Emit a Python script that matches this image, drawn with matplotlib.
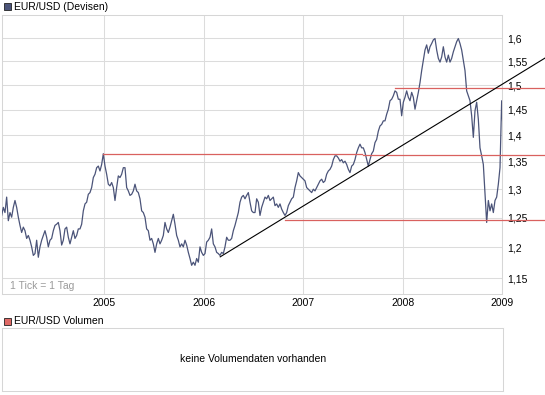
import numpy as np
import matplotlib.pyplot as plt
from matplotlib.patches import Rectangle
from matplotlib.ticker import FixedLocator, NullLocator

plt.rcParams['font.family'] = ['Liberation Sans', 'DejaVu Sans']

# EUR/USD closes, about one value every 6 days
price = [
    1.254, 1.268, 1.259, 1.286, 1.245, 1.259, 1.251, 1.268, 1.280, 1.268,
    1.251, 1.237, 1.225, 1.234, 1.228, 1.215, 1.220, 1.212, 1.201, 1.187,
    1.190, 1.212, 1.184, 1.201, 1.212, 1.220, 1.228, 1.217, 1.201, 1.212,
    1.215, 1.228, 1.237, 1.239, 1.242, 1.228, 1.204, 1.212, 1.231, 1.234,
    1.217, 1.206, 1.217, 1.228, 1.215, 1.220, 1.231, 1.231, 1.239, 1.262,
    1.274, 1.277, 1.291, 1.294, 1.303, 1.321, 1.327, 1.339, 1.342, 1.333,
    1.345, 1.365, 1.342, 1.327, 1.309, 1.306, 1.312, 1.303, 1.280, 1.303,
    1.324, 1.321, 1.327, 1.339, 1.339, 1.303, 1.297, 1.289,
    # 2005 / 2006
    1.291, 1.297, 1.309, 1.297, 1.294, 1.283, 1.262, 1.259, 1.251, 1.231,
    1.228, 1.212, 1.215, 1.206, 1.192, 1.206, 1.215, 1.206, 1.212, 1.220,
    1.242, 1.231, 1.225, 1.234, 1.245, 1.256, 1.239, 1.220, 1.212, 1.201,
    1.206, 1.201, 1.212, 1.204, 1.192, 1.182, 1.171, 1.176, 1.171, 1.182,
    1.176, 1.201, 1.192, 1.187, 1.190, 1.209, 1.212, 1.217, 1.231, 1.206,
    1.201, 1.192, 1.190, 1.187, 1.192, 1.190, 1.201, 1.217, 1.212, 1.212,
    1.215, 1.228, 1.237, 1.248, 1.259, 1.277, 1.286, 1.289, 1.283, 1.289,
    1.294, 1.277, 1.262, 1.259,
    # 2006 / 2007
    1.259, 1.283, 1.277, 1.254, 1.268, 1.277, 1.286, 1.283, 1.289, 1.280,
    1.283, 1.286, 1.271, 1.274, 1.268, 1.274, 1.265, 1.259, 1.254, 1.259,
    1.271, 1.277, 1.283, 1.286, 1.303, 1.315, 1.330, 1.324, 1.321, 1.318,
    1.315, 1.303, 1.300, 1.297, 1.294, 1.300, 1.297, 1.303, 1.309, 1.315,
    1.318, 1.312, 1.315, 1.327, 1.333, 1.336, 1.342, 1.354, 1.361, 1.361,
    1.357, 1.351, 1.354, 1.348, 1.351, 1.345, 1.336, 1.330, 1.342, 1.345,
    1.354, 1.367, 1.376, 1.383, 1.376, 1.376, 1.367, 1.354, 1.342, 1.354,
    1.365, 1.370, 1.386, 1.392, 1.408, 1.418, 1.421, 1.428, 1.428, 1.441,
    1.451,
    # 2008
    1.468, 1.471, 1.478, 1.488, 1.485, 1.471, 1.471, 1.438, 1.465, 1.475,
    1.488, 1.475, 1.468, 1.485, 1.475, 1.451, 1.468, 1.485, 1.505, 1.530,
    1.552, 1.574, 1.585, 1.567, 1.581, 1.588, 1.596, 1.599, 1.574, 1.556,
    1.548, 1.559, 1.581, 1.559, 1.548, 1.563, 1.548, 1.556, 1.570, 1.581,
    1.592, 1.599, 1.588, 1.574, 1.552, 1.530, 1.488, 1.478, 1.468, 1.438,
    1.396, 1.448, 1.465, 1.431, 1.376, 1.361, 1.345, 1.291, 1.242, 1.280,
    1.262, 1.274, 1.259, 1.280, 1.286, 1.309, 1.339, 1.468, 1.396,
]
t_start, t_end = 2003.9685, 2009.0104

years = [2005, 2006, 2007, 2008, 2009]
year_labels = ['2005', '2006', '2007', '2008', '2009']
levels = [1.15, 1.2, 1.25, 1.3, 1.35, 1.4, 1.45, 1.5, 1.55, 1.6]
level_labels = ['1,15', '1,2', '1,25', '1,3', '1,35', '1,4', '1,45', '1,5', '1,55', '1,6']

# drawn-in support / resistance lines: (from, to, level)
hlines = [
    (2004.984, 2007.59, 1.3653),
    (2007.60, 2009.43, 1.3634),
    (2006.816, 2009.43, 1.2469),
    (2007.922, 2009.43, 1.493),
]
trend_x = [2006.165, 2009.429]
trend_y = [1.1847, 1.5566]

line_col = '#4b5479'
red = '#d9615f'
frame = '#d6d6d6'

fig = plt.figure(figsize=(5.45, 3.95), dpi=100)
W, H = 545., 395.

ax = fig.add_axes([2.3 / W, 1 - 293.5 / H, 500 / W, 278.9 / H])
t = np.linspace(t_start, t_end, len(price))
ax.plot(t, price, color=line_col, lw=0.9, zorder=3)

for x0, x1, lv in hlines:
    ax.plot([x0, x1], [lv, lv], color=red, lw=0.9, clip_on=False, zorder=4)
ax.plot(trend_x, trend_y, color='black', lw=0.8, clip_on=False, zorder=5)

ax.set_yscale('log')
ax.set_ylim(1.1265, 1.6524)
ax.set_xlim(2003.975, 2009.0)
ax.yaxis.set_major_locator(FixedLocator(levels))
ax.yaxis.set_minor_locator(NullLocator())
ax.set_yticklabels(level_labels)
ax.set_xticks(years)
ax.set_xticklabels(year_labels)
ax.yaxis.tick_right()
ax.tick_params(axis='both', length=0, labelsize=7.5)
ax.tick_params(axis='y', pad=3.3)
ax.tick_params(axis='x', pad=3)
ax.grid(color='#dcdcdc', lw=0.75)
ax.set_axisbelow(True)
for s in ax.spines.values():
    s.set_color(frame)
    s.set_linewidth(0.75)

fig.text(10 / W, 1 - 286 / H, '1 Tick = 1 Tag', color='#9a9a9a', fontsize=7.5, va='center')

# titles with little colour squares
fig.patches.append(Rectangle((3.5 / W, 1 - 10 / H), 7 / W, 7 / H, transform=fig.transFigure,
                             facecolor=line_col, edgecolor='#222222', lw=0.6))
fig.text(14 / W, 1 - 6.5 / H, 'EUR/USD (Devisen)', fontsize=7.5, va='center')
fig.patches.append(Rectangle((3.5 / W, 1 - 324.5 / H), 7 / W, 7 / H, transform=fig.transFigure,
                             facecolor='#e06a66', edgecolor='#222222', lw=0.6))
fig.text(14 / W, 1 - 321 / H, 'EUR/USD Volumen', fontsize=7.5, va='center')

# empty volume panel
ax2 = fig.add_axes([2.4 / W, 1 - 390.5 / H, 500.6 / W, 62.5 / H])
ax2.set_xticks([])
ax2.set_yticks([])
for s in ax2.spines.values():
    s.set_color(frame)
    s.set_linewidth(0.75)
ax2.text(0.5, 0.5, 'keine Volumendaten vorhanden', transform=ax2.transAxes,
         ha='center', va='center', fontsize=7.5)

fig.savefig('out.png', dpi=100)
